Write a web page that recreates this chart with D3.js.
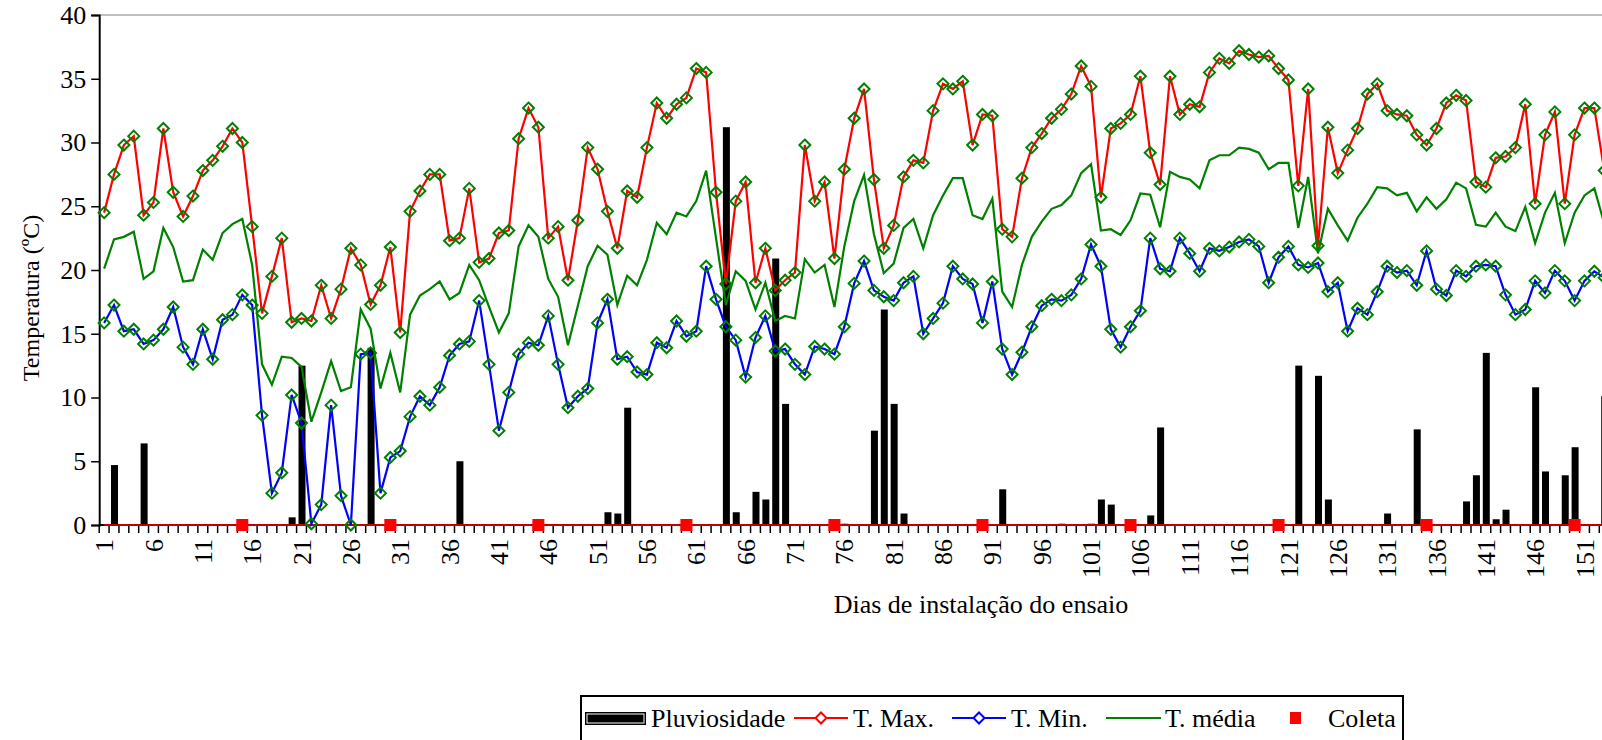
<!DOCTYPE html>
<html><head><meta charset="utf-8">
<script src="https://cdn.jsdelivr.net/npm/d3@7"></script>
<style>
body{margin:0;background:#fff;}
svg{display:block;}
text{font-family:"Liberation Serif","Times New Roman",serif;fill:#000;}
</style>
</head><body>
<svg id="c" width="1602" height="740"></svg>
<script>
const tMax=[24.5,27.5,29.8,30.5,24.3,25.3,31.1,26.1,24.2,25.8,27.8,28.6,29.7,31.1,30.0,23.4,16.6,19.5,22.5,15.9,
16.2,16.0,18.8,16.2,18.5,21.7,20.4,17.3,18.8,21.8,15.1,24.6,26.2,27.5,27.5,22.3,22.5,26.4,20.6,20.9,
22.9,23.1,30.3,32.7,31.2,22.5,23.4,19.2,23.9,29.6,27.9,24.6,21.7,26.2,25.7,29.6,33.1,31.9,33.0,33.5,
35.8,35.5,26.1,18.9,25.4,26.9,19.0,21.7,18.4,19.2,19.8,29.8,25.4,26.9,20.9,27.9,31.9,34.2,27.1,21.7,
23.5,27.3,28.6,28.4,32.5,34.6,34.2,34.8,29.8,32.2,32.1,23.2,22.6,27.2,29.6,30.7,31.9,32.6,33.8,36.0,
34.4,25.7,31.1,31.5,32.2,35.2,29.2,26.7,35.2,32.2,33.0,32.8,35.5,36.6,36.2,37.2,36.9,36.7,36.8,35.8,
34.9,26.6,34.2,21.9,31.2,27.6,29.4,31.1,33.8,34.6,32.5,32.2,32.1,30.6,29.8,31.1,33.1,33.7,33.3,26.9,
26.5,28.8,28.9,29.6,33.0,25.2,30.6,32.4,25.2,30.6,32.7,32.7,27.8];
const tMin=[15.85,17.25,15.2,15.35,14.2,14.5,15.35,17.1,13.95,12.6,15.35,13.0,16.1,16.5,18.05,17.25,8.6,2.5,4.1,10.2,
8.0,0.1,1.6,9.4,2.3,0.0,13.4,13.5,2.5,5.3,5.8,8.5,10.1,9.4,10.8,13.3,14.2,14.4,17.6,12.6,
7.4,10.4,13.4,14.3,14.1,16.4,12.6,9.2,10.1,10.7,15.85,17.7,13.0,13.2,12.0,11.8,14.3,13.9,16.0,14.8,
15.2,20.3,17.7,15.55,14.5,11.6,14.7,16.4,13.65,13.8,12.6,11.8,14.0,13.8,13.4,15.55,18.95,20.7,18.4,17.9,
17.6,19.0,19.5,15.0,16.2,17.4,20.3,19.3,18.9,15.85,19.1,13.8,11.8,13.55,15.55,17.2,17.7,17.6,18.05,19.3,
22.0,20.3,15.35,13.95,15.55,16.8,22.5,20.1,19.9,22.5,21.3,19.9,21.7,21.5,21.8,22.2,22.4,21.85,19.0,21.0,
21.85,20.4,20.2,20.55,18.3,19.0,15.2,17.0,16.5,18.3,20.3,19.8,19.95,18.8,21.5,18.5,18.0,19.95,19.5,20.3,
20.4,20.3,18.05,16.5,16.9,19.15,18.2,19.95,19.15,17.6,19.15,19.9,19.4];
const tMed=[20.1,22.4,22.6,23.0,19.3,19.9,23.3,21.8,19.1,19.2,21.6,20.8,22.9,23.6,24.0,20.4,12.6,11.0,13.2,13.1,
12.4,8.1,10.4,12.85,10.5,10.8,16.9,15.4,10.7,13.5,10.4,16.5,18.0,18.5,19.1,17.7,18.2,20.4,19.2,17.1,
15.1,16.6,21.85,23.5,22.6,19.3,17.9,14.1,17.2,20.3,21.9,21.2,17.25,19.55,18.8,20.8,23.7,22.8,24.5,24.2,
25.4,27.8,22.5,17.25,19.9,19.15,16.9,19.0,16.0,16.4,16.2,20.85,19.8,20.4,17.1,21.85,25.4,27.45,22.8,19.75,
20.5,23.3,24.0,21.7,24.3,25.85,27.2,27.2,24.3,24.0,25.6,18.3,17.1,20.4,22.6,23.8,24.8,25.1,25.85,27.6,
28.3,23.1,23.2,22.75,23.9,26.0,25.9,23.35,27.7,27.3,27.1,26.4,28.6,29.0,29.0,29.6,29.5,29.2,27.9,28.4,
28.4,23.3,27.3,21.3,24.8,23.5,22.3,24.1,25.2,26.5,26.4,25.85,26.05,24.6,25.7,24.8,25.55,26.85,26.4,23.55,
23.4,24.5,23.4,23.05,24.95,22.1,24.5,26.05,22.1,24.5,25.85,26.4,23.65];
const rainDays=[2,5,20,21,28,37,52,53,54,64,65,67,68,69,70,76,79,80,81,82,92,98,101,102,103,107,108,122,124,125,131,134,139,140,141,142,143,146,147,149,150,153];
const rainVals=[4.7,6.4,0.6,12.5,13.9,5.0,1.0,0.9,9.2,31.2,1.0,2.6,2.0,20.9,9.5,0.1,7.4,16.9,9.5,0.9,2.8,0.1,0.1,2.0,1.6,0.75,7.65,12.5,11.7,2.0,0.9,7.5,1.85,3.9,13.5,0.45,1.2,10.8,4.2,3.9,6.1,10.1];
const coletaDays=[15,30,45,60,75,90,105,120,135,150];
const yTickVals=[0,5,10,15,20,25,30,35,40];
const days=tMax.map((v,i)=>i+1);
const xLabelDays=days.filter(d=>(d-1)%5===0);

const svg=d3.select("#c");
const left=99.2, step=9.869;
const x=d3.scaleBand().domain(days).range([left,left+days.length*step]).padding(0);
const y=d3.scaleLinear().domain([0,40]).range([525,15]);
const cx=d=>x(d)+x.bandwidth()/2;
const FS=26;

// top gridline
svg.append("line").attr("x1",left).attr("x2",1602).attr("y1",y(40)).attr("y2",y(40))
  .attr("stroke","#808080").attr("stroke-width",1);

// bars
const barW=7;
svg.append("g").selectAll("rect").data(rainDays.map((d,i)=>({d,v:rainVals[i]}))).join("rect")
  .attr("x",p=>cx(p.d)-barW/2+0.5).attr("width",barW)
  .attr("y",p=>y(p.v)).attr("height",p=>y(0)-y(p.v)).attr("fill","#000");

// y axis
const yAxis=d3.axisLeft(y).tickValues(yTickVals).tickSize(8).tickPadding(5);
const gy=svg.append("g").attr("transform",`translate(${left},0)`).call(yAxis);
gy.select(".domain").attr("stroke","#000").attr("stroke-width",2);
gy.selectAll(".tick line").attr("stroke","#000").attr("stroke-width",1.5);
gy.selectAll(".tick text").attr("font-size",FS).attr("fill","#000");

// x axis
const gx=svg.append("g");
gx.append("line").attr("x1",left).attr("x2",1602).attr("y1",y(0)).attr("y2",y(0)).attr("stroke","#000").attr("stroke-width",2);
gx.selectAll("line.tk").data(days.concat([days.length+1])).join("line").attr("class","tk")
  .attr("x1",d=>left+(d-1)*step).attr("x2",d=>left+(d-1)*step)
  .attr("y1",y(0)).attr("y2",y(0)+8).attr("stroke","#000").attr("stroke-width",1.5);
gx.selectAll("text").data(xLabelDays).join("text")
  .attr("transform",d=>`translate(${cx(d)},${y(0)+14}) rotate(-90)`)
  .attr("text-anchor","end").attr("dy","0.35em").attr("font-size",FS).text(d=>d);

// coleta red baseline
svg.append("line").attr("x1",cx(1)).attr("x2",cx(days.length)).attr("y1",y(0)).attr("y2",y(0))
  .attr("stroke","#ff0000").attr("stroke-width",1.5);

// lines
const line=d3.line().x((v,i)=>cx(i+1)).y(v=>y(v));
svg.append("path").datum(tMed).attr("d",line).attr("fill","none").attr("stroke","#008000").attr("stroke-width",2.2);
svg.append("path").datum(tMax).attr("d",line).attr("fill","none").attr("stroke","#ff0000").attr("stroke-width",2.2);
svg.append("path").datum(tMin).attr("d",line).attr("fill","none").attr("stroke","#0000ff").attr("stroke-width",2.2);

const diamond=(px,py,r)=>`M${px},${py-r}L${px+r},${py}L${px},${py+r}L${px-r},${py}Z`;
[tMax,tMin].forEach(arr=>{
  svg.append("g").selectAll("path").data(arr).join("path")
    .attr("d",(v,i)=>diamond(cx(i+1),y(v),5.5))
    .attr("fill","none").attr("stroke","#008000").attr("stroke-width",2);
});

// coleta squares
svg.append("g").selectAll("rect").data(coletaDays).join("rect")
  .attr("x",d=>cx(d)-6).attr("y",y(0)-6).attr("width",12).attr("height",12).attr("fill","#ff0000");

// axis titles
svg.append("text").attr("x",981).attr("y",613).attr("text-anchor","middle").attr("font-size",FS).text("Dias de instalação do ensaio");
svg.append("text").attr("transform","translate(39,298) rotate(-90)").attr("text-anchor","middle").attr("font-size",24).text("Temperatura (ºC)");

// legend
const lg=svg.append("g");
lg.append("rect").attr("x",581).attr("y",696).attr("width",822).attr("height",70).attr("fill","#fff").attr("stroke","#000").attr("stroke-width",2);
const ly=718, lb=727;
lg.append("rect").attr("x",585).attr("y",712).attr("width",61).attr("height",13).attr("fill","#000");
lg.append("rect").attr("x",587).attr("y",714).attr("width",57).attr("height",9).attr("fill","none").attr("stroke","#fff").attr("stroke-width",1);
lg.append("text").attr("x",651).attr("y",lb).attr("font-size",FS).text("Pluviosidade");
const legLines=[{x1:794,x2:848,c:"#ff0000",m:true,t:"T. Max.",tx:853},{x1:952,x2:1006,c:"#0000ff",m:true,t:"T. Min.",tx:1011},{x1:1106,x2:1161,c:"#008000",m:false,t:"T. média",tx:1165}];
legLines.forEach(o=>{
  lg.append("line").attr("x1",o.x1).attr("x2",o.x2).attr("y1",ly).attr("y2",ly).attr("stroke",o.c).attr("stroke-width",2.2);
  if(o.m) lg.append("path").attr("d",diamond((o.x1+o.x2)/2,ly,5.5)).attr("fill","#fff").attr("stroke",o.c).attr("stroke-width",2);
  lg.append("text").attr("x",o.tx).attr("y",lb).attr("font-size",FS).text(o.t);
});
lg.append("rect").attr("x",1290).attr("y",712).attr("width",11).attr("height",12).attr("fill","#ff0000");
lg.append("text").attr("x",1328).attr("y",lb).attr("font-size",FS).text("Coleta");
</script>
</body></html>
